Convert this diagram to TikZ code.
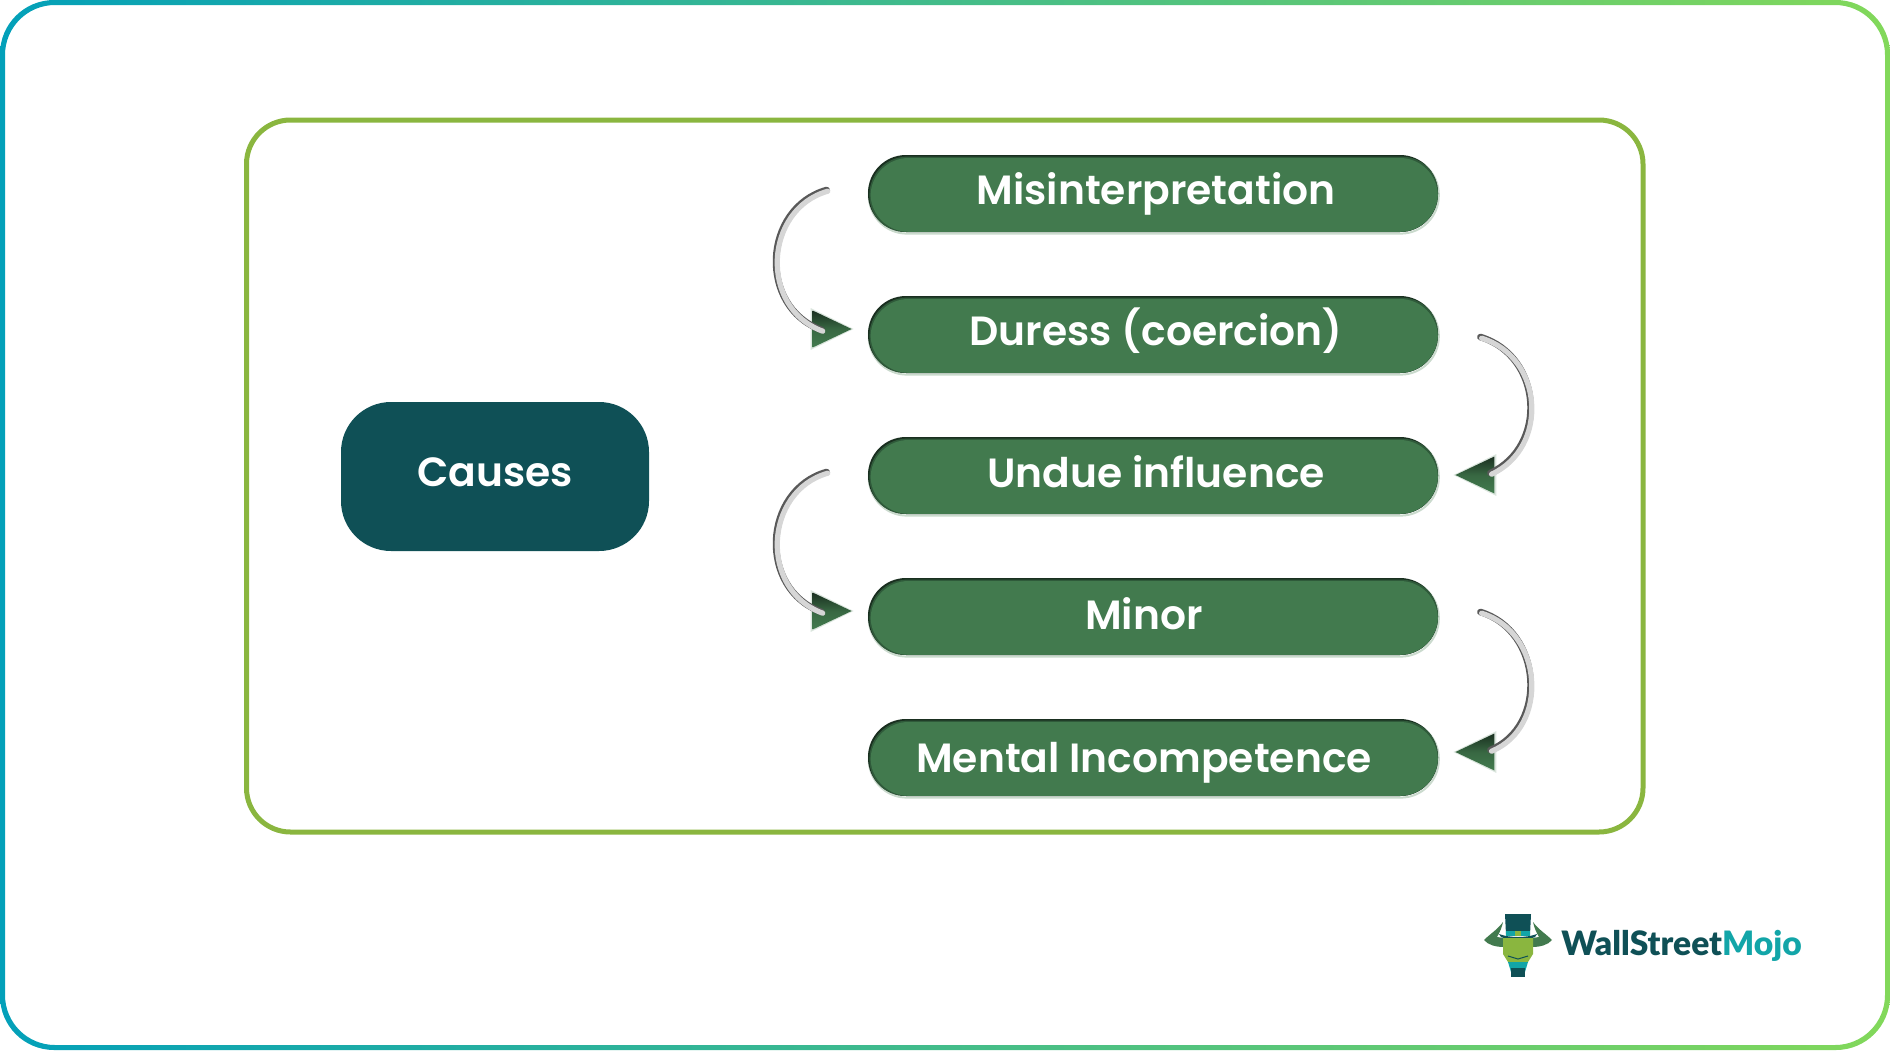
\documentclass[tikz,border=0pt]{standalone}
\usepackage{fontspec}
\usetikzlibrary{calc}
\setmainfont{Poppins}[UprightFont=* SemiBold,BoldFont=* Bold]
\newfontfamily\logofont{Lato}[UprightFont=* Black]
\definecolor{tealdark}{HTML}{0F5056}
\definecolor{pillgreen}{HTML}{427A4E}
\definecolor{pillmid}{HTML}{2F5A3A}
\definecolor{pilldark}{HTML}{1A2F20}
\definecolor{framegreen}{HTML}{8AB63F}
\definecolor{edgeA}{HTML}{03A0B9}
\definecolor{edgeB}{HTML}{46BE88}
\definecolor{edgeC}{HTML}{82D85A}
\definecolor{mojo}{HTML}{12A5A8}
\definecolor{limehead}{HTML}{8AB63F}
\newcommand{\pilltext}[3]{\raisebox{-#2}[0pt][0pt]{\makebox[0pt]{\hspace*{#1}#3}}}
\newcommand{\bendarrow}[6]{%
  % #1 start, #2 ctrl1, #3 ctrl2, #4 end, #5 tip, #6 base offset sign
  \fill[pillgreen!35,opacity=.55] ($(#5)+(#6*-2,0)$) -- ($(#5)+(#6*41,-21)$) -- ($(#5)+(#6*41,21)$) -- cycle;
  \shade[top color=pilldark,bottom color=pillgreen,middle color=pillgreen!85!black] (#5) -- ($(#5)+(#6*39,-18.5)$) -- ($(#5)+(#6*39,18.5)$) -- cycle;
  \draw[arcdark] (#1) .. controls (#2) and (#3) .. (#4);
  \draw[arclight] ([shift={(1.2,1.2)}]#1) .. controls ([shift={(1.2,1.2)}]#2) and ([shift={(1.2,1.2)}]#3) .. ([shift={(1.2,1.2)}]#4);
}
\tikzset{
  pill/.style={rectangle,rounded corners=19pt,minimum width=285pt,minimum height=38.5pt,inner sep=0pt,
    fill=pilldark,text=white,font=\fontsize{20.4}{24}\selectfont,
    preaction={draw=pillgreen!40,line width=1pt,transform canvas={shift={(.4pt,-.8pt)}},opacity=.7},
    path picture={
      \fill[pillmid,rounded corners=19pt] ($(path picture bounding box.south west)+(.7pt,-.8pt)$) rectangle ($(path picture bounding box.north east)+(.7pt,-.8pt)$);
      \fill[pillgreen,rounded corners=19pt] ($(path picture bounding box.south west)+(1.3pt,.1pt)$) rectangle ($(path picture bounding box.north east)+(-.1pt,-1.5pt)$);
    }},
  rootbox/.style={rectangle,rounded corners=25pt,minimum width=154pt,minimum height=74.5pt,inner sep=0pt,
    fill=tealdark,text=white,font=\fontsize{20.4}{24}\selectfont},
  arcdark/.style={draw=black!65,line width=3.3pt,line cap=round},
  arclight/.style={draw=black!16,line width=2.6pt,line cap=round},
  frame/.style={draw=framegreen,line width=2.5pt,rounded corners=22pt},
  logotext/.style={inner sep=0pt,anchor=base west,font=\logofont\fontsize{16.8}{18}\selectfont}
}
\begin{document}
\begin{tikzpicture}[x=0.5pt,y=-0.5pt]
\useasboundingbox (0,0) rectangle (1890,1050);
% outer gradient border
\shade[even odd rule,left color=edgeA,middle color=edgeB,right color=edgeC]
  [rounded corners=27pt] (0,0) rectangle (1890,1050)
  [rounded corners=25pt] (5,5) rectangle (1885,1045);
% inner frame
\draw[frame] (246.5,120) rectangle (1643,832);
% root
\node[rootbox] (root) at (495,476.5) {\pilltext{0pt}{5.2pt}{Causes}};
% pills
\node[pill] (p1) at (1153,193.5) {\pilltext{3pt}{5.5pt}{Misinterpretation}};
\node[pill] (p2) at (1153,334.5) {\pilltext{3pt}{5.3pt}{Duress (coercion)}};
\node[pill] (p3) at (1153,475.5) {\pilltext{3pt}{6pt}{Undue influence}};
\node[pill] (p4) at (1153,616.5) {\pilltext{-9pt}{6.4pt}{Minor}};
\node[pill] (p5) at (1153,757.5) {\pilltext{-9pt}{7.3pt}{Mental Incompetence}};
% connector anchors
\coordinate (a1s) at ($(p1.west)+(-41,-3.5)$);
\coordinate (a1p) at ($(p1.west)+(-105,14.5)$);
\coordinate (a1q) at ($(p2.west)+(-110,-27.5)$);
\coordinate (a1e) at ($(p2.west)+(-46,-4.5)$);
\coordinate (a1t) at ($(p2.west)+(-16,-5.5)$);
\coordinate (a2s) at ($(p2.east)+(42,2.5)$);
\coordinate (a2p) at ($(p2.east)+(104,21.5)$);
\coordinate (a2q) at ($(p3.east)+(110,-29.5)$);
\coordinate (a2e) at ($(p3.east)+(52,-2.5)$);
\coordinate (a2t) at ($(p3.east)+(17,-.5)$);
\coordinate (a3s) at ($(p3.west)+(-41,-3.5)$);
\coordinate (a3p) at ($(p3.west)+(-105,14.5)$);
\coordinate (a3q) at ($(p4.west)+(-110,-27.5)$);
\coordinate (a3e) at ($(p4.west)+(-46,-4.5)$);
\coordinate (a3t) at ($(p4.west)+(-16,-5.5)$);
\coordinate (a4s) at ($(p4.east)+(42,-4.5)$);
\coordinate (a4p) at ($(p4.east)+(104,14.5)$);
\coordinate (a4q) at ($(p5.east)+(110,-31.5)$);
\coordinate (a4e) at ($(p5.east)+(52,-7.5)$);
\coordinate (a4t) at ($(p5.east)+(17,-5.5)$);
\bendarrow{a1s}{a1p}{a1q}{a1e}{a1t}{-1}
\bendarrow{a2s}{a2p}{a2q}{a2e}{a2t}{1}
\bendarrow{a3s}{a3p}{a3q}{a3e}{a3t}{-1}
\bendarrow{a4s}{a4p}{a4q}{a4e}{a4t}{1}
% logo
\fill[tealdark] (1505,914) -- (1531,914) -- (1530,935) -- (1506,935) -- cycle;
\fill[tealdark] (1499,934) .. controls (1510,938) and (1526,938) .. (1537,934) -- (1535,937) .. controls (1526,941) and (1510,941) .. (1501,937) -- cycle;
\fill[mojo] (1506,931) rectangle (1530,936);
\fill[limehead] (1515,931) rectangle (1521,936);
\fill[pillgreen] (1503,922) .. controls (1497,930) and (1490,934) .. (1484,940) .. controls (1488,945) and (1496,947) .. (1504,947) -- (1504,938) -- (1497,937) .. controls (1500,932) and (1502,927) .. (1503,922) -- cycle;
\fill[pillgreen] (1533,922) .. controls (1539,930) and (1546,934) .. (1552,940) .. controls (1548,945) and (1540,947) .. (1532,947) -- (1532,938) -- (1539,937) .. controls (1536,932) and (1534,927) .. (1533,922) -- cycle;
\fill[limehead] (1503,938) -- (1533,938) -- (1533,954) -- (1528,962) -- (1508,962) -- (1503,954) -- cycle;
\fill[mojo] (1508,962) -- (1528,962) -- (1525,972) -- (1511,972) -- cycle;
\fill[tealdark] (1511,968) -- (1525,968) -- (1525,977) -- (1511,977) -- cycle;
\draw[tealdark,line width=.5pt] (1508,956) -- (1518,959) -- (1528,956);
\node[logotext] (logo) at (1561,955) {\textcolor{tealdark}{WallStreet}\textcolor{mojo}{Mojo}};
\end{tikzpicture}
\end{document}
